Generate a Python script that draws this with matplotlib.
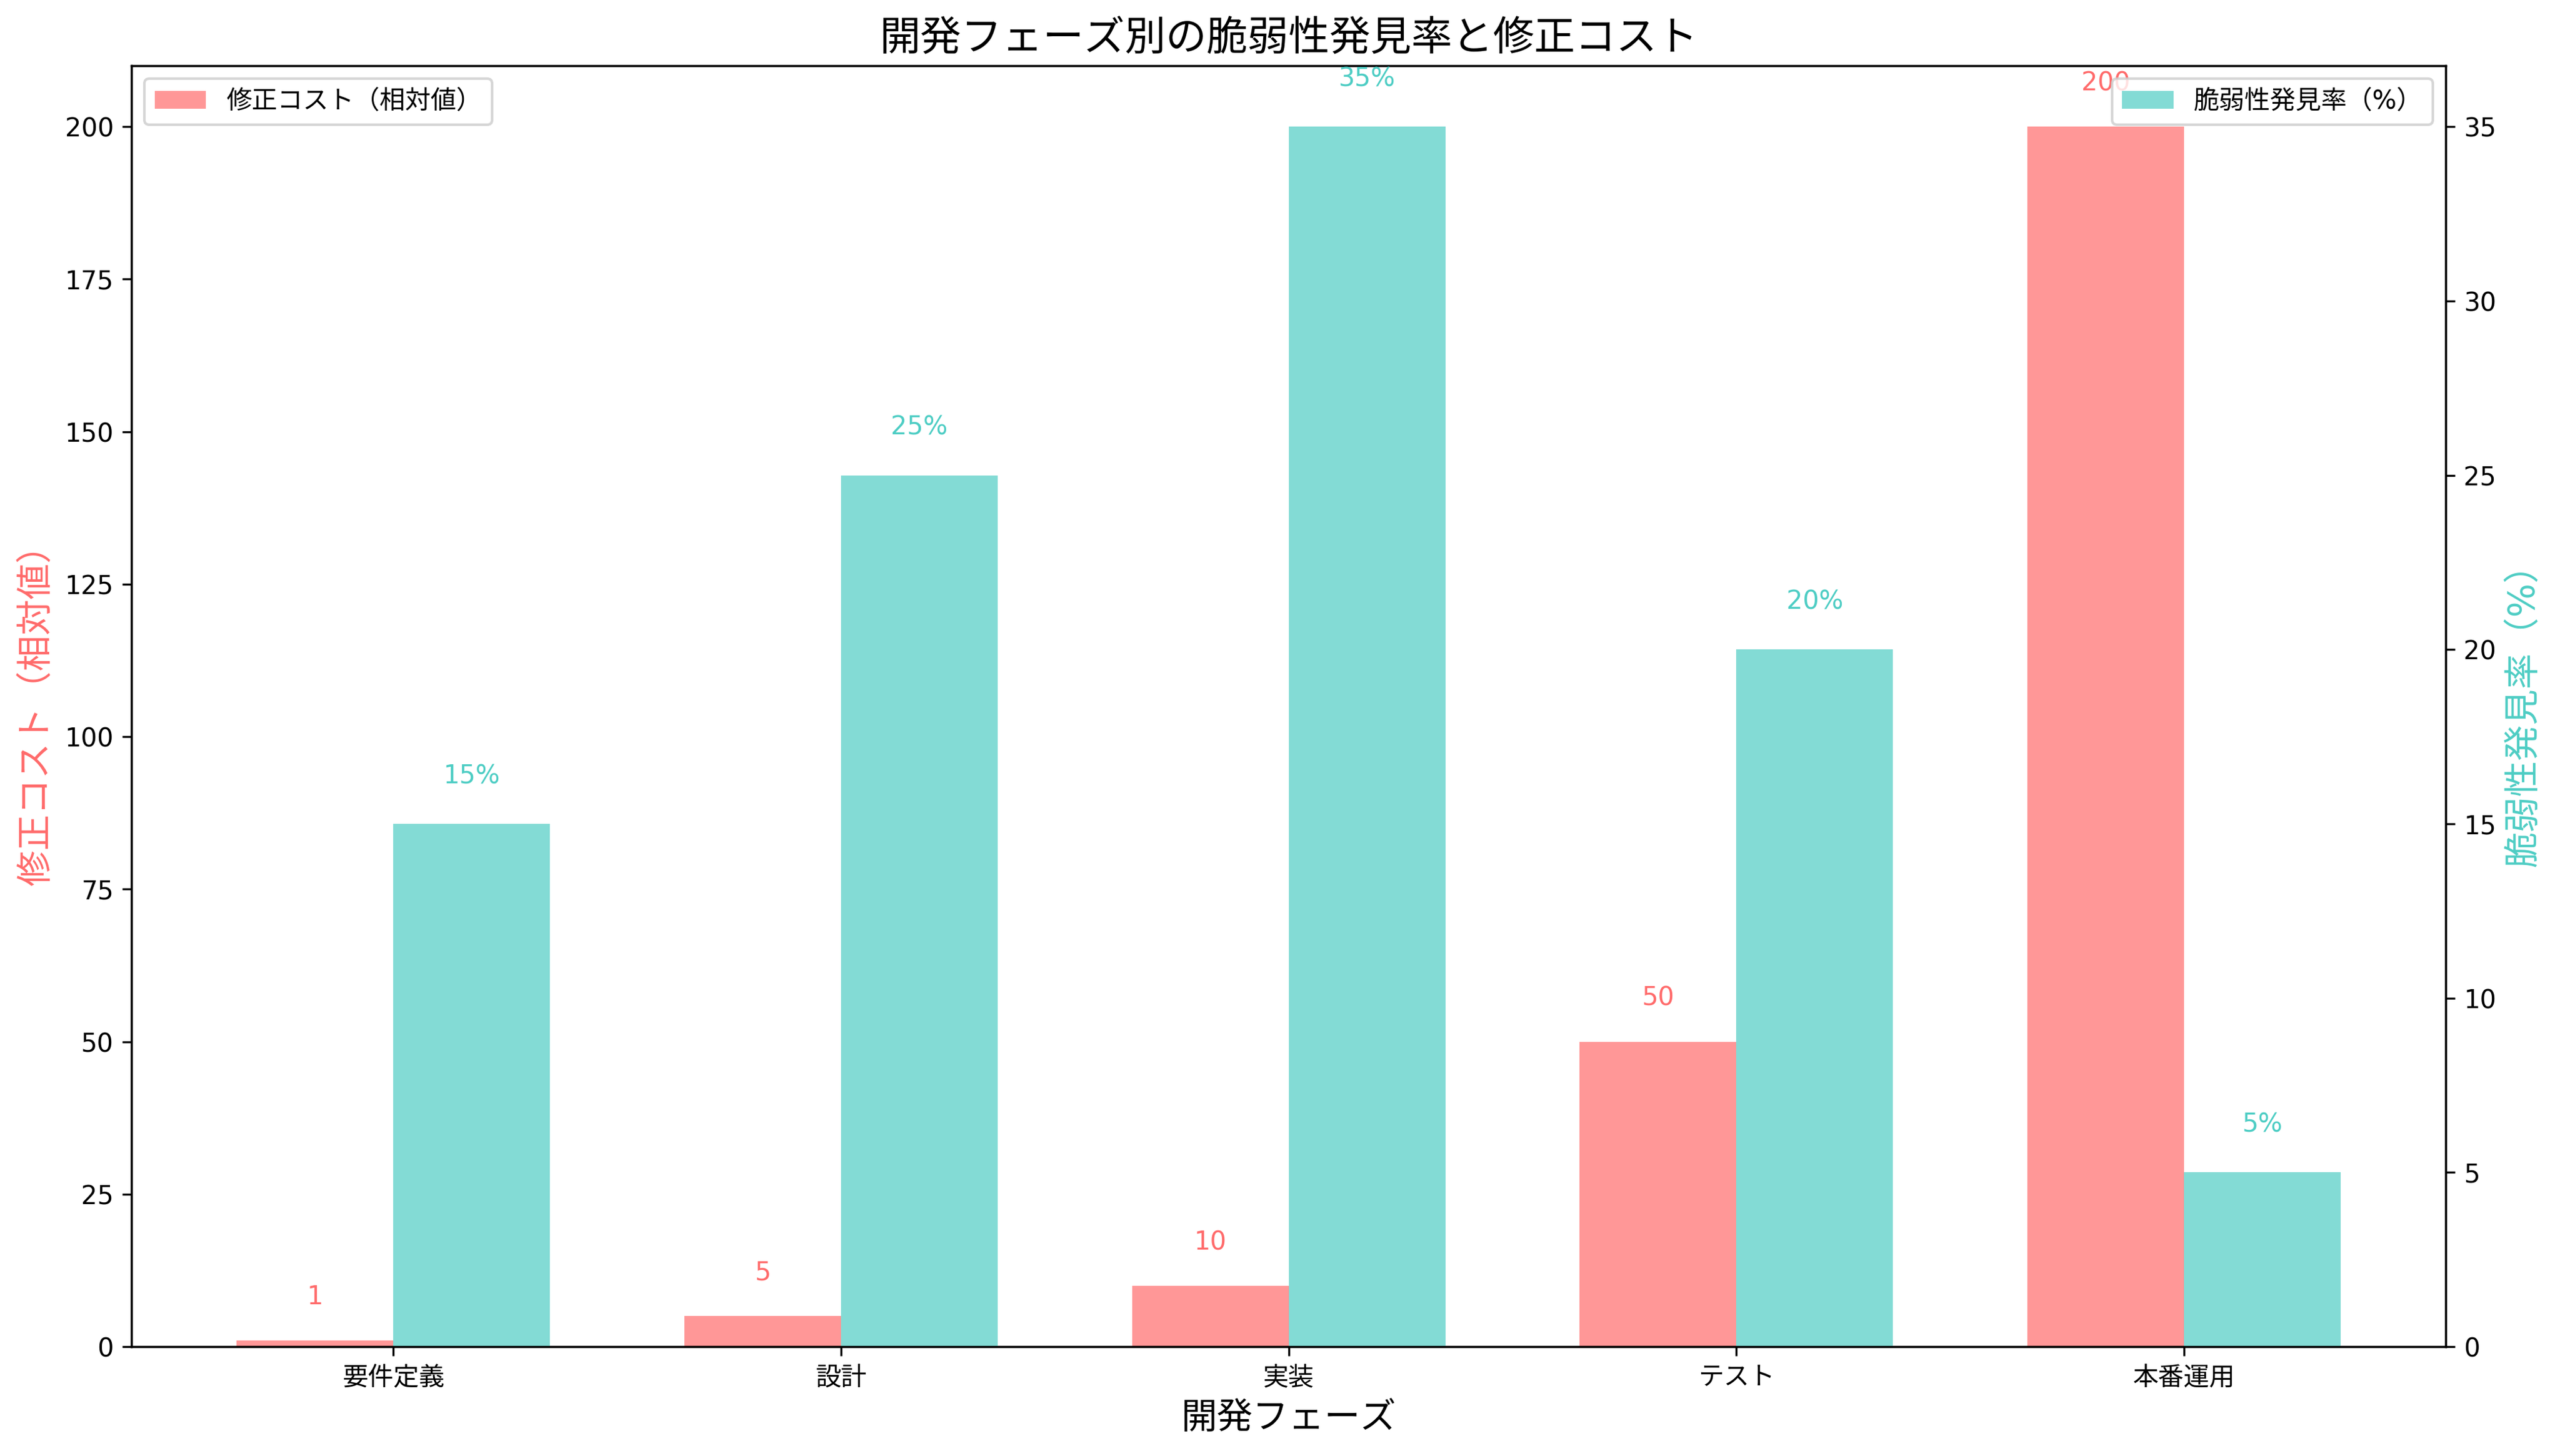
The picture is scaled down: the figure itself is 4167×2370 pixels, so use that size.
import matplotlib
matplotlib.use("Agg")
import matplotlib.pyplot as plt
import numpy as np

plt.rcParams['font.family'] = ['DejaVu Sans', 'Noto Sans CJK JP']

phases = ['要件定義', '設計', '実装', 'テスト', '本番運用']
fix_cost = [1, 5, 10, 50, 200]
discovery_rate = [15, 25, 35, 20, 5]

c_red = '#FF6B6B'
c_teal = '#4ECDC4'

fig = plt.figure(figsize=(4167 / 300, 2370 / 300), dpi=300)
ax1 = fig.add_axes([0.0514, 0.0751, 0.9554 - 0.0514, 0.9549 - 0.0751])
ax2 = ax1.twinx()

x = np.arange(len(phases))
w = 0.35
b1 = ax1.bar(x - w / 2, fix_cost, w, color=c_red, alpha=0.7, label='修正コスト（相対値）')
b2 = ax2.bar(x + w / 2, discovery_rate, w, color=c_teal, alpha=0.7, label='脆弱性発見率（%）')

ax1.set_ylim(0, max(fix_cost) * 1.05)
ax2.set_ylim(0, max(discovery_rate) * 1.05)

for xi, v in zip(x, fix_cost):
    ax1.text(xi - w / 2, v + 5, f'{v}', ha='center', va='bottom', color=c_red, fontsize=10)
for xi, v in zip(x, discovery_rate):
    ax2.text(xi + w / 2, v + 1, f'{v}%', ha='center', va='bottom', color=c_teal, fontsize=10)

ax1.set_xticks(x)
ax1.set_xticklabels(phases, fontsize=10)
ax1.set_xlabel('開発フェーズ', fontsize=14)
ax1.set_ylabel('修正コスト（相対値）', color=c_red, fontsize=14)
ax2.set_ylabel('脆弱性発見率（%）', color=c_teal, fontsize=14)
ax1.set_title('開発フェーズ別の脆弱性発見率と修正コスト', fontsize=16)

ax1.legend(loc='upper left', fontsize=10)
ax2.legend(loc='upper right', fontsize=10)

fig.savefig('out.png', dpi=300)
